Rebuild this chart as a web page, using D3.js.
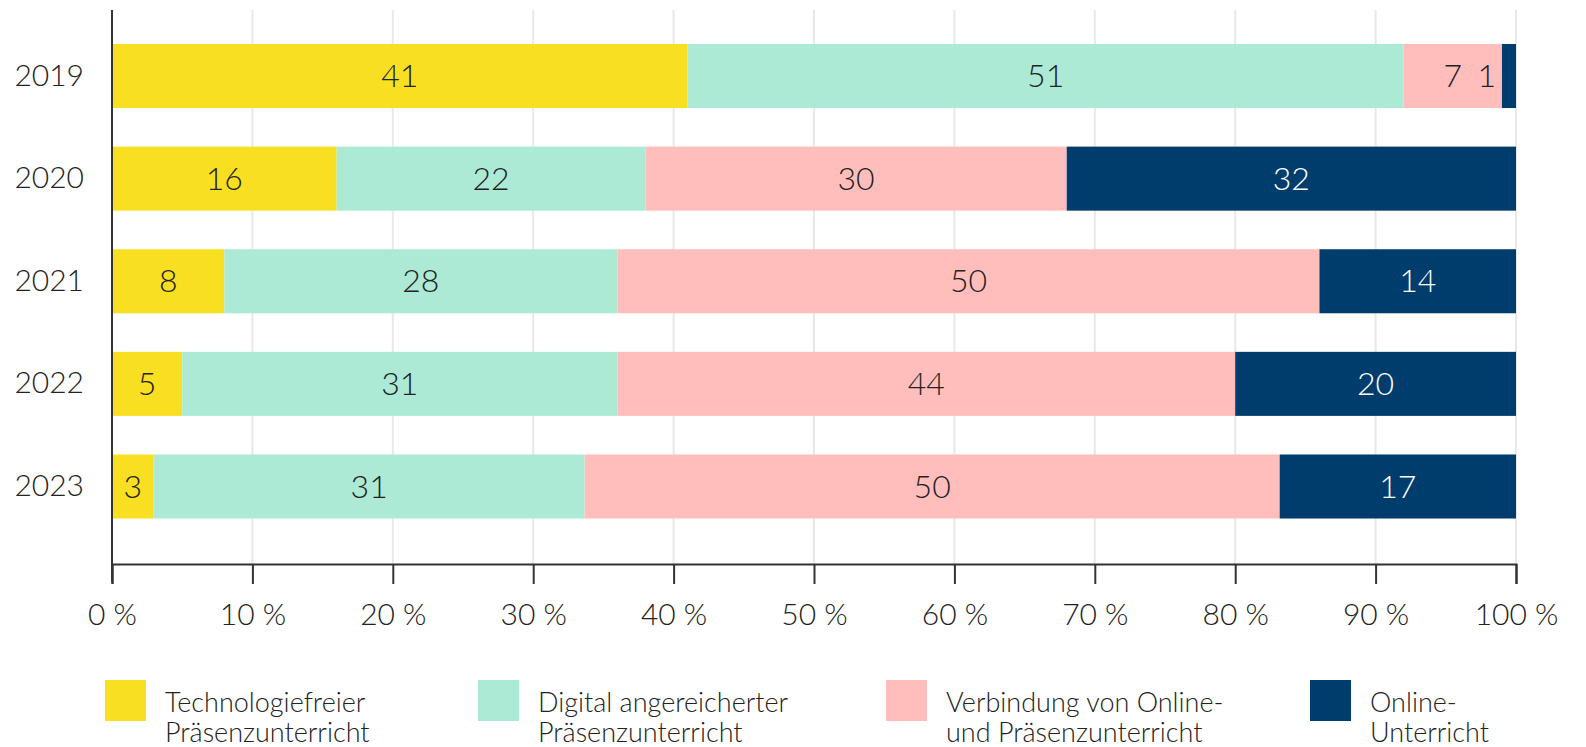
<!DOCTYPE html>
<html>
<head>
<meta charset="utf-8">
<script src="https://cdn.jsdelivr.net/npm/d3@7"></script>
<style>
  html, body { margin: 0; padding: 0; background: #fff; }
  svg { display: block; font-family: Lato, "Open Sans", sans-serif; font-weight: 300; }
</style>
</head>
<body>
<div id="chart"></div>
<script>
// data (share in percent per year)
var years = ["2019", "2020", "2021", "2022", "2023"];
var technologiefrei = [41, 16, 8, 5, 3];
var digitalAngereichert = [51, 22, 28, 31, 31];
var verbindungOnlinePraesenz = [7, 30, 50, 44, 50];
var onlineUnterricht = [1, 32, 14, 20, 17];

var seriesKeys = ["tech", "digital", "verbindung", "online"];
var seriesLabels = [
    ["Technologiefreier", "Präsenzunterricht"],
    ["Digital angereicherter", "Präsenzunterricht"],
    ["Verbindung von Online-", "und Präsenzunterricht"],
    ["Online-", "Unterricht"]
];
var seriesColors = ["#f9df22", "#acead6", "#ffbebc", "#003d6d"];
var xTicks = [0, 10, 20, 30, 40, 50, 60, 70, 80, 90, 100];

(function(){
    var W = 1586, H = 747;
    var plot = {left: 112, right: 1516, top: 10, bottom: 564};

    var rows = years.map(function(y, i){
        return {year: y, tech: technologiefrei[i], digital: digitalAngereichert[i],
                verbindung: verbindungOnlinePraesenz[i], online: onlineUnterricht[i]};
    });

    // rounded values do not always add up to 100, so stack as shares of the row total
    var stacked = d3.stack().keys(seriesKeys).offset(d3.stackOffsetExpand)(rows);

    var x = d3.scaleLinear().domain([0, 100]).range([plot.left, plot.right]);
    var y = d3.scaleBand().domain(years).range([24.7, 537.8])
        .paddingInner(0.376).paddingOuter(0.188);
    var color = d3.scaleOrdinal().domain(seriesKeys).range(seriesColors);

    var svg = d3.select('#chart').append('svg')
        .attr('width', W).attr('height', H);

    // vertical grid
    svg.append('g').selectAll('line')
        .data(xTicks.slice(1))
        .enter().append('line')
        .attr('x1', function(d){ return x(d); })
        .attr('x2', function(d){ return x(d); })
        .attr('y1', plot.top).attr('y2', plot.bottom)
        .attr('stroke', '#e8e8e8').attr('stroke-width', 2);

    // bars
    var layers = svg.append('g').selectAll('g')
        .data(stacked)
        .enter().append('g')
        .attr('fill', function(d){ return color(d.key); });

    layers.selectAll('rect')
        .data(function(d){ return d; })
        .enter().append('rect')
        .attr('x', function(d){ return x(d[0] * 100); })
        .attr('width', function(d){ return x(d[1] * 100) - x(d[0] * 100); })
        .attr('y', function(d){ return y(d.data.year); })
        .attr('height', y.bandwidth());

    // value labels
    layers.each(function(layer){
        var key = layer.key;
        d3.select(this).selectAll('text')
            .data(layer)
            .enter().append('text')
            .attr('font-size', 32)
            .attr('dy', '0.35em')
            .attr('y', function(d){ return y(d.data.year) + y.bandwidth() / 2; })
            .attr('x', function(d){
                var x0 = x(d[0] * 100), x1 = x(d[1] * 100);
                if (x1 - x0 < 25) return x0 - 6;
                return (x0 + x1) / 2;
            })
            .attr('text-anchor', function(d){
                return (x(d[1] * 100) - x(d[0] * 100) < 25) ? 'end' : 'middle';
            })
            .attr('fill', function(d){
                var narrow = x(d[1] * 100) - x(d[0] * 100) < 25;
                return (key === 'online' && !narrow) ? '#ffffff' : '#222222';
            })
            .text(function(d){ return d.data[key]; });
    });

    // x axis
    var xAxis = svg.append('g')
        .attr('transform', 'translate(0,' + plot.bottom + ')')
        .call(d3.axisBottom(x).tickValues(xTicks).tickSize(20).tickPadding(20)
              .tickFormat(function(d){ return d + ' %'; }));
    xAxis.select('.domain').attr('stroke', '#333').attr('stroke-width', 2);
    xAxis.selectAll('.tick line').attr('stroke', '#333').attr('stroke-width', 2);
    xAxis.selectAll('.tick text').attr('fill', '#222').attr('font-size', 30)
        .attr('font-family', 'Lato, sans-serif');

    // y axis
    var yAxis = svg.append('g')
        .attr('transform', 'translate(' + plot.left + ',0)')
        .call(d3.axisLeft(y).tickSize(0).tickPadding(28));
    yAxis.select('.domain').attr('d', 'M0,' + plot.top + 'V' + (plot.bottom + 18))
        .attr('stroke', '#333').attr('stroke-width', 2);
    yAxis.selectAll('.tick text').attr('fill', '#222').attr('font-size', 30)
        .attr('font-family', 'Lato, sans-serif');

    // legend
    var legendX = [105, 478, 886, 1310];
    var legend = svg.append('g').selectAll('g')
        .data(seriesKeys)
        .enter().append('g')
        .attr('transform', function(d, i){ return 'translate(' + legendX[i] + ',680)'; });

    legend.append('rect')
        .attr('width', 41).attr('height', 41)
        .attr('fill', function(d){ return color(d); });

    legend.append('text')
        .attr('x', 60)
        .attr('font-size', 27)
        .attr('fill', '#222')
        .selectAll('tspan')
        .data(function(d, i){ return seriesLabels[i]; })
        .enter().append('tspan')
        .attr('x', 60)
        .attr('y', function(d, i){ return 32 + i * 30; })
        .text(function(d){ return d; });
})();
</script>
</body>
</html>
